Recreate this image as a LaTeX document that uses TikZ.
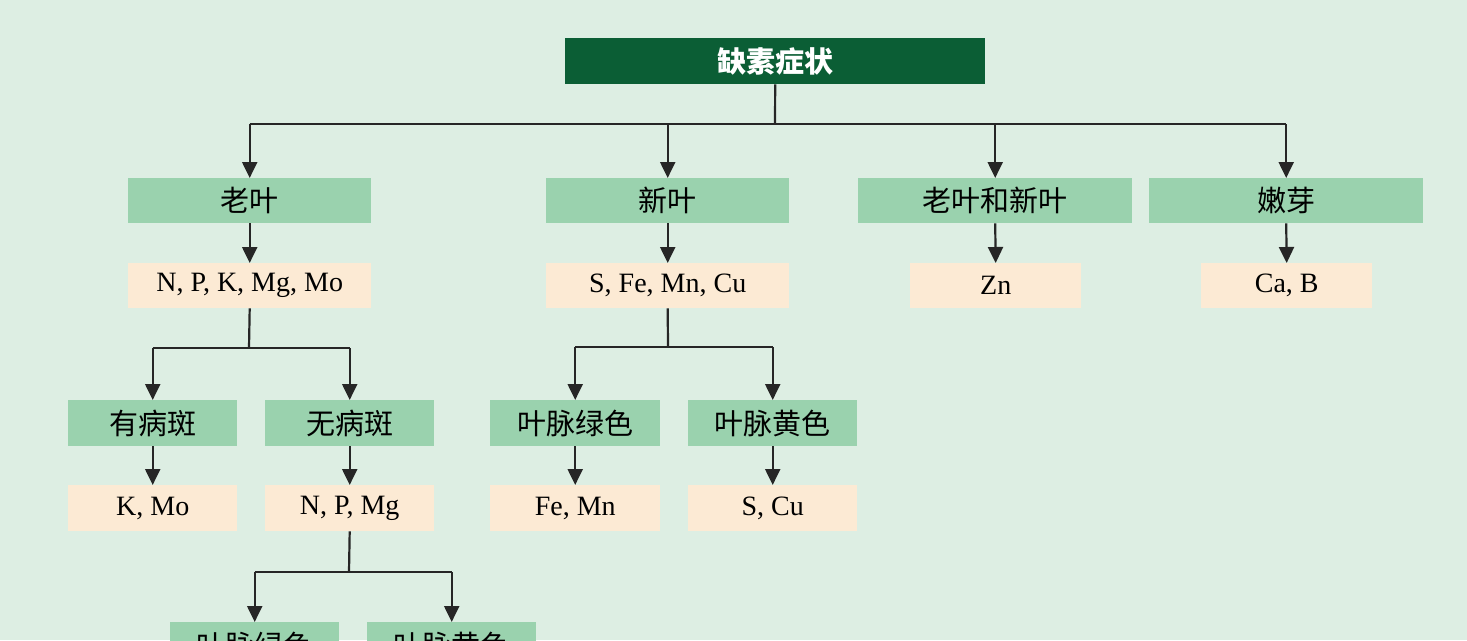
\documentclass[tikz,border=0pt]{standalone}
\usepackage{fontspec}
\setmainfont{Liberation Serif}
\newfontfamily\cjk{Noto Sans CJK SC}
\usetikzlibrary{arrows.meta}
\definecolor{bg}{HTML}{DDEEE3}
\definecolor{dk}{HTML}{0B5E35}
\definecolor{gr}{HTML}{9AD2AE}
\definecolor{pc}{HTML}{FCEAD4}
\begin{document}
\begin{tikzpicture}[x=1pt,y=-1pt,
 box/.style={inner sep=0pt,anchor=north west},
 gbox/.style={box,fill=gr,font=\cjk\fontsize{29}{31}\selectfont},
 pbox/.style={box,fill=pc,font=\fontsize{28}{30}\selectfont},
 arr/.style={draw=black!85,line width=2.2pt,-{Triangle[length=16pt,width=15pt]}},
 ln/.style={draw=black!85,line width=2.2pt}]
\useasboundingbox (0,0) rectangle (1467,640);
\clip (0,0) rectangle (1467,640);
\fill[bg] (0,0) rectangle (1467,640);
\node[box,fill=dk,text=white,font=\cjk\bfseries\fontsize{29}{31}\selectfont,minimum width=420pt,minimum height=46pt] (top) at (565,38) {缺素症状};
% level 1
\node[gbox,minimum width=243pt,minimum height=45pt] (a) at (128,178) {老叶};
\node[gbox,minimum width=243pt,minimum height=45pt] (b) at (546,178) {新叶};
\node[gbox,minimum width=274pt,minimum height=45pt] (c) at (858,178) {老叶和新叶};
\node[gbox,minimum width=274pt,minimum height=45pt] (d) at (1149,178) {嫩芽};
\node[pbox,minimum width=243pt,minimum height=45pt] (a1) at (128,263) {N, P, K, Mg, Mo};
\node[pbox,minimum width=243pt,minimum height=45pt] (b1) at (546,263) {S, Fe, Mn, Cu};
\node[pbox,minimum width=171pt,minimum height=45pt] (c1) at (910,263) {Zn};
\node[pbox,minimum width=171pt,minimum height=45pt] (d1) at (1201,263) {Ca, B};
% level 2
\node[gbox,minimum width=169pt,minimum height=46pt] (e) at (68,400) {有病斑};
\node[gbox,minimum width=169pt,minimum height=46pt] (f) at (265,400) {无病斑};
\node[gbox,minimum width=170pt,minimum height=46pt] (g) at (490,400) {叶脉绿色};
\node[gbox,minimum width=169pt,minimum height=46pt] (h) at (688,400) {叶脉黄色};
\node[pbox,minimum width=169pt,minimum height=46pt] (e1) at (68,485) {K, Mo};
\node[pbox,minimum width=169pt,minimum height=46pt] (f1) at (265,485) {N, P, Mg};
\node[pbox,minimum width=170pt,minimum height=46pt] (g1) at (490,485) {Fe, Mn};
\node[pbox,minimum width=169pt,minimum height=46pt] (h1) at (688,485) {S, Cu};
% level 3
\node[gbox,minimum width=169pt,minimum height=46pt] (i) at (170,622) {叶脉绿色};
\node[gbox,minimum width=169pt,minimum height=46pt] (j) at (367,622) {叶脉黄色};
% connectors
\coordinate (t0) at (775,124);
\draw[ln] (top.south) -- (t0);
\draw[ln] (a.north |- t0) -- (d.north |- t0);
\foreach \n in {a,b,c,d} \draw[arr] (\n.north |- t0) -- (\n.north);
\foreach \p/\q in {a/a1,b/b1,c/c1,d/d1,e/e1,f/f1,g/g1,h/h1} \draw[arr] (\p.south) -- (\q.north);
\coordinate (s1) at (249,348);
\draw[ln] (a1.south) -- (s1);
\draw[ln] (e.north |- s1) -- (f.north |- s1);
\foreach \n in {e,f} \draw[arr] (\n.north |- s1) -- (\n.north);
\coordinate (s2) at (668,347);
\draw[ln] (b1.south) -- (s2);
\draw[ln] (g.north |- s2) -- (h.north |- s2);
\foreach \n in {g,h} \draw[arr] (\n.north |- s2) -- (\n.north);
\coordinate (s3) at (349,572);
\draw[ln] (f1.south) -- (s3);
\draw[ln] (i.north |- s3) -- (j.north |- s3);
\foreach \n in {i,j} \draw[arr] (\n.north |- s3) -- (\n.north);
\end{tikzpicture}
\end{document}
